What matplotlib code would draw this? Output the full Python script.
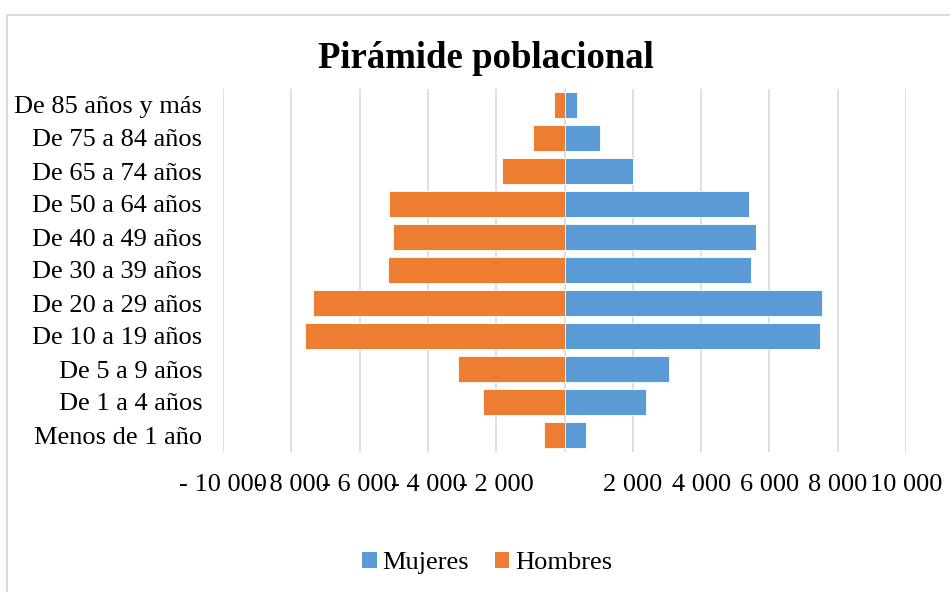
import matplotlib
matplotlib.use("Agg")
import matplotlib.pyplot as plt
from matplotlib.patches import Rectangle, Patch
from matplotlib.ticker import FuncFormatter

categories = ["Menos de 1 año", "De 1 a 4 años", "De 5 a 9 años", "De 10 a 19 años",
              "De 20 a 29 años", "De 30 a 39 años", "De 40 a 49 años", "De 50 a 64 años",
              "De 65 a 74 años", "De 75 a 84 años", "De 85 años y más"]
mujeres = [618, 2386, 3046, 7481, 7537, 5460, 5600, 5404, 1993, 1039, 379]
hombres = [-590, -2400, -3130, -7593, -7355, -5165, -5025, -5137, -1825, -912, -295]
xticks = [-10000, -8000, -6000, -4000, -2000, 0, 2000, 4000, 6000, 8000, 10000]

plt.rcParams['font.family'] = ['Liberation Serif', 'DejaVu Serif']

fig = plt.figure(figsize=(9.5, 5.92), dpi=100)
ax = fig.add_axes([223/950, 1-451.5/592, (906-223)/950, (451.5-88.5)/592])

blue = "#5B9BD5"
orange = "#ED7D31"
y = range(len(categories))
ax.barh(y, mujeres, height=0.77, color=blue, edgecolor="white", linewidth=0.6, zorder=3, label="Mujeres")
ax.barh(y, hombres, height=0.77, color=orange, edgecolor="white", linewidth=0.6, zorder=3, label="Hombres")

ax.set_xlim(-10000, 10000)
ax.set_ylim(-0.5, len(categories) - 0.5)
ax.set_xticks(xticks)

def fmt(v, pos):
    v = int(round(v))
    if v == 0:
        return ""
    s = f"{abs(v):,}".replace(",", " ")
    return ("- " + s) if v < 0 else s

ax.xaxis.set_major_formatter(FuncFormatter(fmt))
ax.set_yticks(list(y))
ax.set_yticklabels(categories)
ax.tick_params(axis="both", length=0, labelsize=19, colors="black")
ax.tick_params(axis="x", pad=16)
ax.tick_params(axis="y", pad=15)
for lbl in ax.get_yticklabels():
    lbl.set_horizontalalignment("right")

ax.grid(axis="x", color="#D9D9D9", linewidth=1.2, zorder=0)
ax.grid(axis="y", visible=False)
for s in ax.spines.values():
    s.set_visible(False)

fig.text(486/950, 1-58/592, "Pirámide poblacional", ha="center", va="center",
         fontsize=26.5, fontweight="bold")

handles = [Patch(facecolor=blue, label="Mujeres"), Patch(facecolor=orange, label="Hombres")]
fig.legend(handles=handles, loc="center", bbox_to_anchor=(487/950, 1-563/592), ncol=2,
           frameon=False, fontsize=19, handlelength=0.55, handleheight=0.55,
           handletextpad=0.2, columnspacing=1.0)

fig.patches.append(Rectangle((6.5/950, -0.1), 1.2, 1.1 - 14.5/592, transform=fig.transFigure,
                             fill=False, edgecolor="#D9D9D9", linewidth=1.3))

fig.savefig("out.png", dpi=100, facecolor="white")
